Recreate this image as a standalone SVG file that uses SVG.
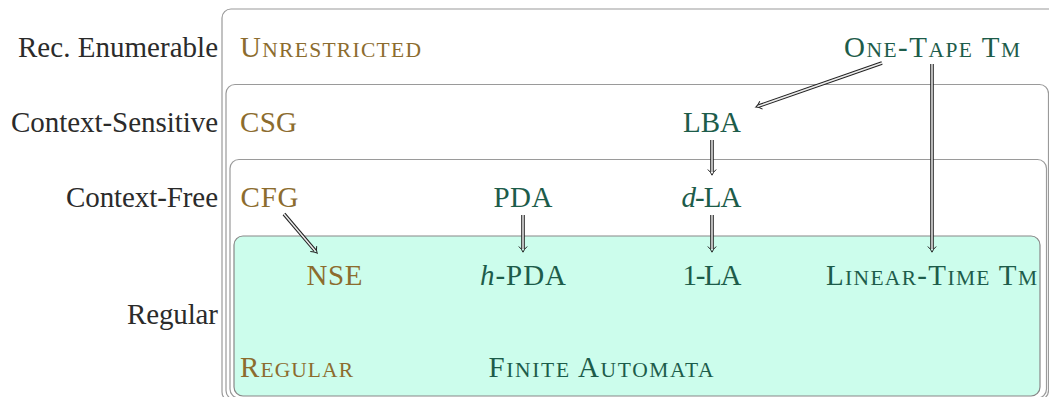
<svg xmlns="http://www.w3.org/2000/svg" width="1049" height="397" viewBox="0 0 1049 397">
<defs>
<style>
.box{fill:none;stroke:#9a9a9a;stroke-width:1.2}
.reg{fill:#ccfdec;stroke:#888;stroke-width:1.2}
text{font-family:"Liberation Serif","Times New Roman",serif;font-size:29px}
.lab{fill:#2b2b2b;text-anchor:end}
.br{fill:#8c6c2e}
.gr{fill:#1d5c4a}
.sc{font-size:21.5px}
.it{font-style:italic}
.out{stroke:#222;stroke-width:3.6;fill:none}
.in{stroke:#ececec;stroke-width:1.5;fill:none}
</style>
<marker id="imp" markerUnits="userSpaceOnUse" markerWidth="14" markerHeight="14" viewBox="-7 -7 14 14" refX="0" refY="0" orient="auto" overflow="visible">
<path d="M-2.5,-4.2 Q0,-1.2 3.2,0 Q0,1.2 -2.5,4.2" fill="none" stroke="#222" stroke-width="1"/>
</marker>
</defs>

<g id="box-rec">
<rect class="box" x="222" y="9" width="900" height="392" rx="9"/>
</g>
<g id="box-cs">
<rect class="box" x="226" y="84.5" width="822.5" height="315" rx="9"/>
</g>
<g id="box-cf">
<rect class="box" x="230" y="159.5" width="816.5" height="238.5" rx="9"/>
</g>
<g id="box-regular">
<rect class="reg" x="234" y="236" width="806" height="160" rx="9"/>
</g>

<g id="labels">
<text class="lab" x="218" y="56.5" textLength="200">Rec. Enumerable</text>
<text class="lab" x="218" y="131.5" textLength="207">Context-Sensitive</text>
<text class="lab" x="218" y="207" textLength="152">Context-Free</text>
<text class="lab" x="218" y="324" textLength="91">Regular</text>
</g>

<g id="node-unrestricted"><text class="br" x="240" y="56.5" textLength="181">U<tspan class="sc">NRESTRICTED</tspan></text></g>
<g id="node-onetape"><text class="gr" x="844" y="56.5" textLength="176">O<tspan class="sc">NE</tspan>-T<tspan class="sc">APE</tspan> T<tspan class="sc">M</tspan></text></g>
<g id="node-csg"><text class="br" x="240" y="131.5" textLength="57">CSG</text></g>
<g id="node-lba"><text class="gr" x="683" y="131.5" textLength="58">LBA</text></g>
<g id="node-cfg"><text class="br" x="240.5" y="207" textLength="58">CFG</text></g>
<g id="node-pda"><text class="gr" x="493.5" y="207" textLength="59">PDA</text></g>
<g id="node-dla"><text class="gr" x="681.5" y="207" textLength="60"><tspan class="it">d</tspan>-LA</text></g>
<g id="node-nse"><text class="br" x="306.5" y="284.5" textLength="56">NSE</text></g>
<g id="node-hpda"><text class="gr" x="480" y="284.5" textLength="86"><tspan class="it">h</tspan>-PDA</text></g>
<g id="node-1la"><text class="gr" x="682.5" y="284.5" textLength="59">1-LA</text></g>
<g id="node-lineartime"><text class="gr" x="826" y="284.5" textLength="211">L<tspan class="sc">INEAR</tspan>-T<tspan class="sc">IME</tspan> T<tspan class="sc">M</tspan></text></g>
<g id="node-regular"><text class="br" x="240" y="377" textLength="113">R<tspan class="sc">EGULAR</tspan></text></g>
<g id="node-fa"><text class="gr" x="488.5" y="377" textLength="225">F<tspan class="sc">INITE</tspan> A<tspan class="sc">UTOMATA</tspan></text></g>

<g id="connectors">
<path class="out" d="M882,63 L758.8,106" marker-end="url(#imp)"/>
<path class="in" d="M882,63 L758.8,106"/>
<path class="out" d="M932,64 L932,249" marker-end="url(#imp)"/>
<path class="in" d="M932,64 L932,249"/>
<path class="out" d="M712,140 L712,172" marker-end="url(#imp)"/>
<path class="in" d="M712,140 L712,172"/>
<path class="out" d="M712,215 L712,249" marker-end="url(#imp)"/>
<path class="in" d="M712,215 L712,249"/>
<path class="out" d="M523,215 L523,249" marker-end="url(#imp)"/>
<path class="in" d="M523,215 L523,249"/>
<path class="out" d="M284,214 L315.1,250.7" marker-end="url(#imp)"/>
<path class="in" d="M284,214 L315.1,250.7"/>
</g>
</svg>
